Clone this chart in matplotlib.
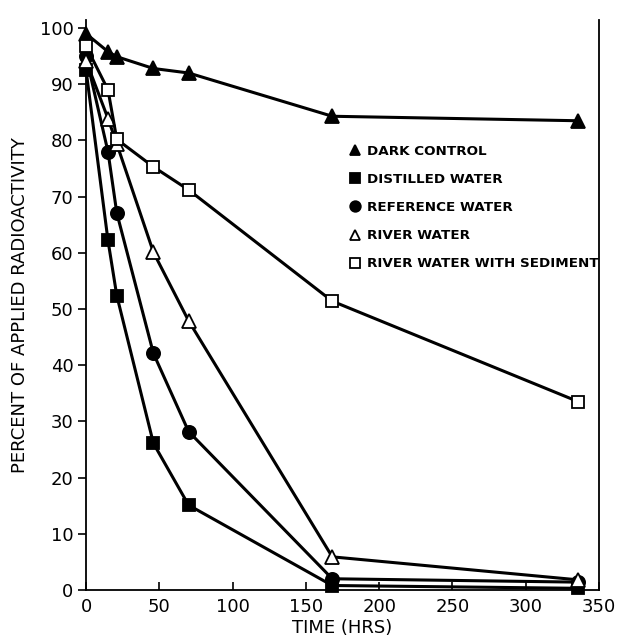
import matplotlib
matplotlib.use("Agg")
import matplotlib.pyplot as plt
from matplotlib.lines import Line2D

time_hrs = [0, 15, 21, 46, 70, 168, 336]
dark_control = [99.0, 95.8, 94.9, 92.8, 92.0, 84.3, 83.5]
distilled_water = [92.6, 62.2, 52.4, 26.1, 15.1, 0.8, 0.3]
reference_water = [95.0, 78.0, 67.1, 42.1, 28.2, 2.0, 1.4]
river_water = [94.2, 83.9, 79.4, 60.1, 47.9, 5.9, 1.8]
river_sediment = [96.8, 89.0, 80.2, 75.3, 71.2, 51.4, 33.5]

series_labels = ["DARK CONTROL", "DISTILLED WATER", "REFERENCE WATER",
                 "RIVER WATER", "RIVER WATER WITH SEDIMENT"]
x_ticks = [0, 50, 100, 150, 200, 250, 300, 350]
y_ticks = [0, 10, 20, 30, 40, 50, 60, 70, 80, 90, 100]

fig = plt.figure(figsize=(6.19, 6.40), dpi=100)
ax = fig.add_axes([86/619, 50/640, 513/619, 570.4/640])

styles = [
    (dark_control, "^", "black", 9.5),
    (distilled_water, "s", "black", 9),
    (reference_water, "o", "black", 9.5),
    (river_water, "^", "white", 9.5),
    (river_sediment, "s", "white", 9),
]
lw = 2.2
for data, m, fc, ms in styles:
    ax.plot(time_hrs, data, color="black", lw=lw, marker=m, ms=ms,
            mfc=fc, mec="black", mew=1.3, zorder=3, clip_on=False)

ax.set_xlim(0, 350)
ax.set_ylim(0, 101.5)
ax.set_xticks(x_ticks)
ax.set_yticks(y_ticks)
ax.spines["top"].set_visible(False)
for s in ["left", "bottom", "right"]:
    ax.spines[s].set_linewidth(1.3)
ax.tick_params(axis="x", direction="in", length=6, width=1.2, labelsize=13, pad=6)
ax.tick_params(axis="y", direction="out", length=6, width=1.2, labelsize=13, pad=3)
ax.set_xlabel("TIME (HRS)", fontsize=13, labelpad=2)
ax.set_ylabel("PERCENT OF APPLIED RADIOACTIVITY", fontsize=13, labelpad=8)

handles = [Line2D([], [], ls="none", marker=m, ms=ms * 0.8, mfc=fc, mec="black", mew=1.3, color="black")
           for _, m, fc, ms in styles]
leg = ax.legend(handles, series_labels, loc="upper left",
                bbox_to_anchor=(349/619, 1 - 145/640), bbox_transform=fig.transFigure,
                frameon=False, handlelength=0.85, handletextpad=0.5, labelspacing=1.12,
                prop={"family": "DejaVu Sans", "size": 9.7, "weight": "bold"},
                borderpad=0, borderaxespad=0)

fig.savefig("out.png", dpi=100)
